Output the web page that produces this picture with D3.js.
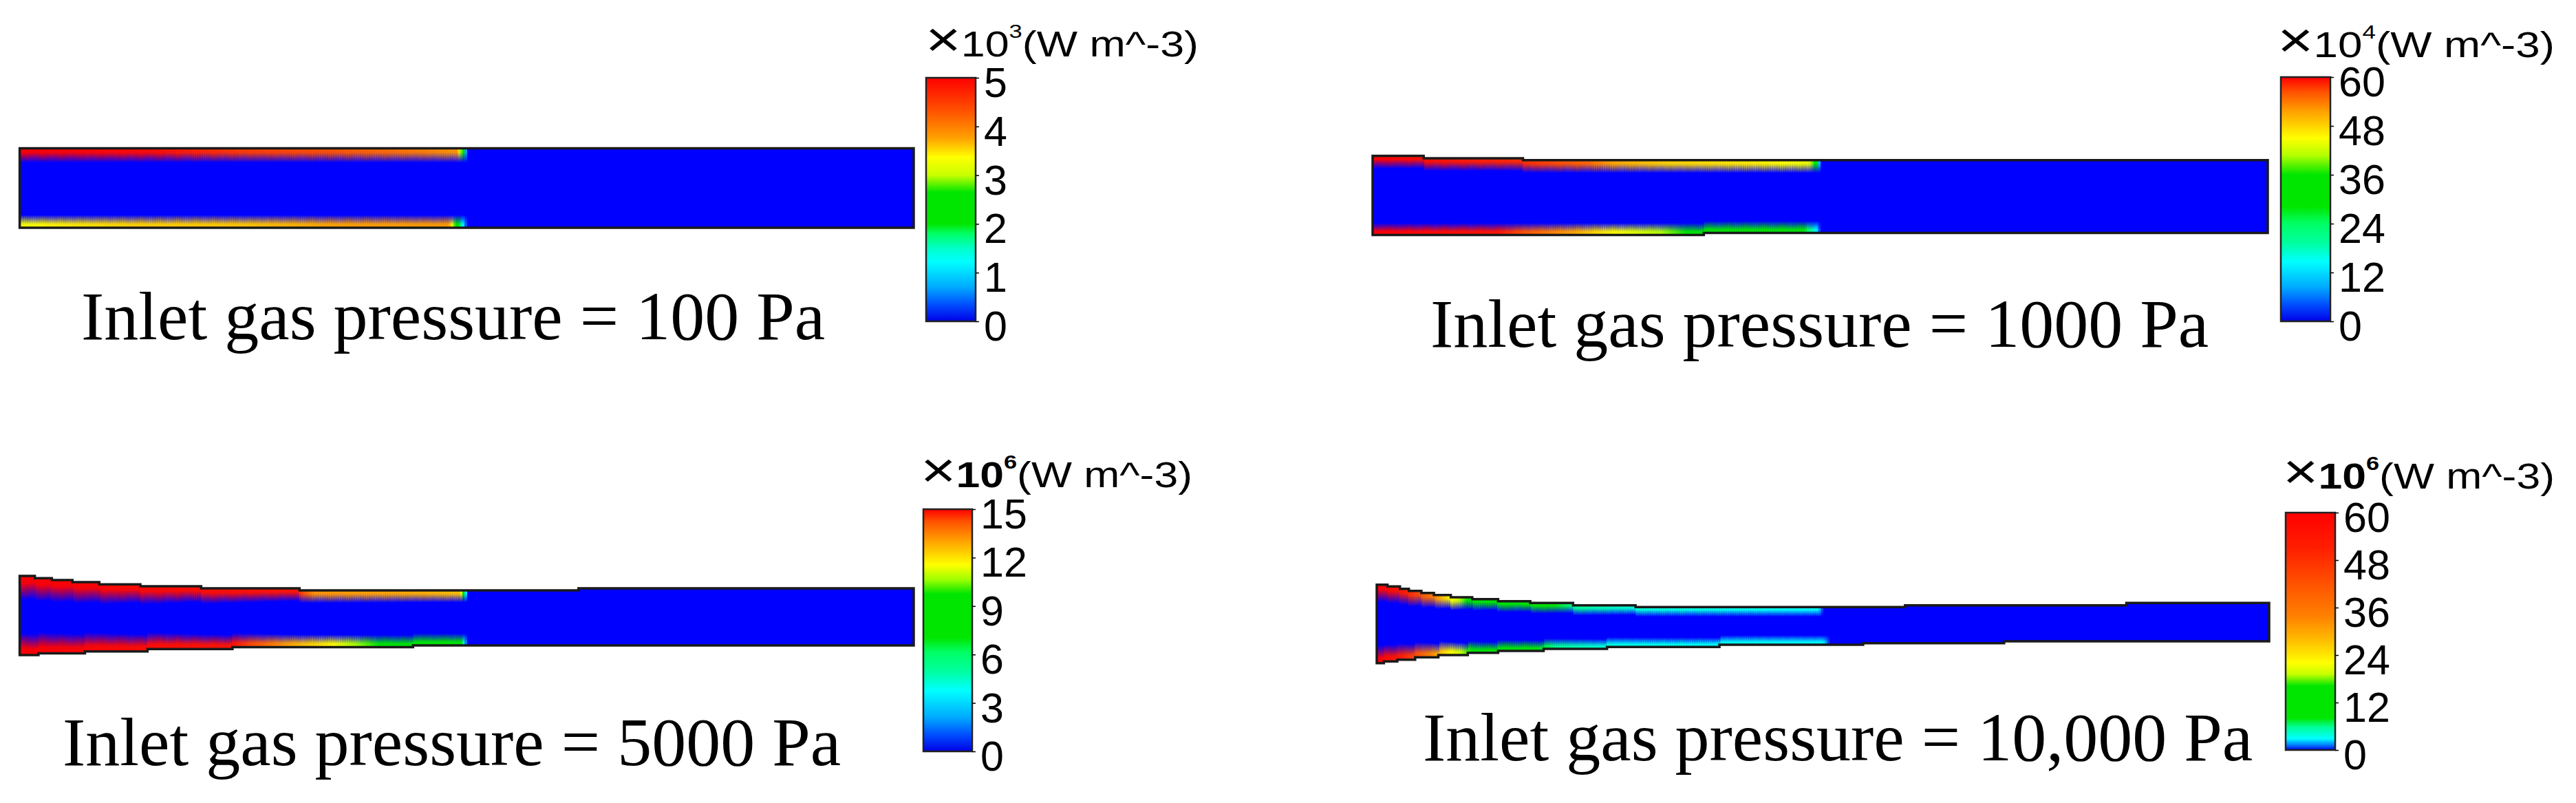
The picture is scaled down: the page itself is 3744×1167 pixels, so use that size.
<!DOCTYPE html>
<html>
<head>
<meta charset="utf-8">
<script src="https://cdn.jsdelivr.net/npm/d3@7"></script>
<style>
body { margin: 0; background: #fff; }
text { font-family: "Liberation Sans", Arial, sans-serif; fill: #000; }
.caption { font-family: "Liberation Serif", "Times New Roman", serif; font-size: 100px; }
</style>
</head>
<body>
<script>
"use strict"
// heat source density in the channel for four inlet pressures
// axial stations are in % of channel length, wall positions in half-heights of the 100 Pa channel

const captions = ["Inlet gas pressure = 100 Pa", "Inlet gas pressure = 1000 Pa",
                  "Inlet gas pressure = 5000 Pa", "Inlet gas pressure = 10,000 Pa"];
const exponents = ["3", "4", "6", "6"];
const cbMax = [5, 60, 15, 60];
const cbTicks = [[0, 1, 2, 3, 4, 5], [0, 12, 24, 36, 48, 60], [0, 3, 6, 9, 12, 15], [0, 12, 24, 36, 48, 60]];

// colour maps, [fraction of range, colour]
const cmap1 = [[0, "#0000e6"], [0.07, "#0050ff"], [0.14, "#00aaff"], [0.245, "#00ffff"], [0.30, "#00ffc8"], [0.36, "#00ff64"], [0.40, "#00e600"], [0.53, "#00e600"], [0.60, "#c8ff00"], [0.673, "#ffff00"], [0.753, "#ffa000"], [0.866, "#ff5000"], [1, "#ff0000"]];
const cmap2 = [[0, "#0000e6"], [0.07, "#0050ff"], [0.14, "#00aaff"], [0.244, "#00ffff"], [0.32, "#00ffa0"], [0.40, "#00ff64"], [0.47, "#00e600"], [0.60, "#00e600"], [0.68, "#b4ff00"], [0.75, "#ffff00"], [0.86, "#ffa000"], [0.94, "#ff5000"], [1, "#ff0000"]];
const cmap3 = [[0, "#0000e6"], [0.07, "#0050ff"], [0.14, "#00aaff"], [0.25, "#00ffff"], [0.33, "#00ffa0"], [0.41, "#00ff64"], [0.47, "#00e600"], [0.65, "#00e600"], [0.71, "#a0ff00"], [0.77, "#ffff00"], [0.87, "#ffa000"], [0.95, "#ff5000"], [1, "#ff0000"]];
const cmap4 = [[0, "#0000e6"], [0.02, "#0078ff"], [0.048, "#00ffff"], [0.097, "#00ff96"], [0.135, "#00e600"], [0.27, "#00e600"], [0.32, "#c8ff00"], [0.367, "#ffff00"], [0.46, "#ffbe00"], [0.56, "#ff8200"], [0.706, "#ff5000"], [0.85, "#ff1e00"], [1, "#ff0000"]];

// wall outlines (stepped)
const p1TopX = [0], p1TopY = [1];
const p1BotX = [0], p1BotY = [-1];
const p2TopX = [0, 5.7, 16.8], p2TopY = [1.03, 0.97, 0.92];
const p2BotX = [0, 37], p2BotY = [-0.96, -0.91];
const p3TopX = [0, 1.7, 3.6, 5.9, 8.9, 13.5, 20.3, 31.3, 62.5];
const p3TopY = [1.03, 0.973, 0.926, 0.874, 0.819, 0.771, 0.719, 0.667, 0.719];
const p3BotX = [0, 2.1, 7.3, 14.3, 23.8, 44.0];
const p3BotY = [-0.961, -0.918, -0.869, -0.810, -0.762, -0.719];
const p4TopX = [0, 1.2, 2.6, 3.6, 5.0, 6.4, 8.3, 10.7, 13.6, 17.2, 22.0, 29.0, 59.2, 84.0];
const p4TopY = [0.958, 0.913, 0.854, 0.802, 0.750, 0.698, 0.641, 0.594, 0.542, 0.497, 0.438, 0.393, 0.438, 0.497];
const p4BotX = [0, 0.8, 2.3, 4.3, 6.9, 10.2, 13.6, 18.7, 25.8, 38.4, 54.5, 70.3];
const p4BotY = [-1.016, -0.975, -0.930, -0.871, -0.814, -0.757, -0.710, -0.658, -0.611, -0.554, -0.514, -0.468];

// wall heat source values (colour bar units)
const p1HeatTopX = [0, 15, 25, 35, 45, 49, 49.6, 50];
const p1HeatTop  = [5, 4.9, 4.5, 4.3, 4.0, 3.8, 2.3, 0];
const p1HeatBotX = [0, 3, 12, 25, 35, 48, 49.6, 50];
const p1HeatBot  = [3.3, 3.4, 3.55, 3.6, 3.75, 3.8, 1.2, 0];
const p2HeatTopX = [0, 17, 24, 27, 33, 43, 48.7, 49.6, 50];
const p2HeatTop  = [60, 58, 55, 51, 48, 46, 44, 33, 0];
const p2HeatBotX = [0, 14, 17, 22.6, 26, 32, 35, 48, 49.6, 50];
const p2HeatBot  = [60, 59, 56, 51, 46, 41, 36, 30, 14, 0];
const p3HeatTopX = [0, 31, 33, 45, 49.3, 49.7, 50];
const p3HeatTop  = [15, 14.8, 13.2, 12.8, 12.5, 8.5, 0];
const p3HeatBotX = [0, 24, 27, 30.7, 35, 40, 44, 49.3, 49.7, 50];
const p3HeatBot  = [15, 14.8, 14, 12.8, 11.6, 9.8, 8.5, 8, 4, 0];
const p4HeatTopX = [0, 3, 6, 8, 10.5, 17, 22, 29, 49.5, 50];
const p4HeatTop  = [60, 52, 36, 23, 15, 11, 6, 4, 3, 0];
const p4HeatBotX = [0, 3, 5.5, 8, 11, 16, 20, 27, 50, 50.8];
const p4HeatBot  = [60, 50, 36, 23, 15, 10, 6, 3.5, 3, 0];

// depth of the heated layer next to each wall (half-heights)
const p1DepthX = [0, 50], p1DepthTop = [0.36, 0.36], p1DepthBot = [0.32, 0.32];
const p2DepthX = [0, 50], p2DepthTop = [0.32, 0.32], p2DepthBot = [0.3, 0.3];
const p3DepthX = [0, 10, 20, 31, 50], p3DepthTop = [0.6, 0.5, 0.4, 0.32, 0.3], p3DepthBot = [0.55, 0.46, 0.38, 0.32, 0.3];
const p4DepthX = [0, 5, 12, 30, 50], p4DepthTop = [0.45, 0.38, 0.28, 0.24, 0.24], p4DepthBot = [0.45, 0.38, 0.28, 0.24, 0.24];

const panelData = [
	{ cmap: cmap1, topX: p1TopX, topY: p1TopY, botX: p1BotX, botY: p1BotY, hTopX: p1HeatTopX, hTop: p1HeatTop, hBotX: p1HeatBotX, hBot: p1HeatBot, dX: p1DepthX, dTop: p1DepthTop, dBot: p1DepthBot },
	{ cmap: cmap2, topX: p2TopX, topY: p2TopY, botX: p2BotX, botY: p2BotY, hTopX: p2HeatTopX, hTop: p2HeatTop, hBotX: p2HeatBotX, hBot: p2HeatBot, dX: p2DepthX, dTop: p2DepthTop, dBot: p2DepthBot },
	{ cmap: cmap3, topX: p3TopX, topY: p3TopY, botX: p3BotX, botY: p3BotY, hTopX: p3HeatTopX, hTop: p3HeatTop, hBotX: p3HeatBotX, hBot: p3HeatBot, dX: p3DepthX, dTop: p3DepthTop, dBot: p3DepthBot },
	{ cmap: cmap4, topX: p4TopX, topY: p4TopY, botX: p4BotX, botY: p4BotY, hTopX: p4HeatTopX, hTop: p4HeatTop, hBotX: p4HeatBotX, hBot: p4HeatBot, dX: p4DepthX, dTop: p4DepthTop, dBot: p4DepthBot }
];

// layout
const w = 3744, h = 1167;
const unitPx = 57.75;
const layout = [
	{ x0: 28.6, x1: 1328, cy: 273.25, cbx: 1346, cbw: 72, cby0: 113, cby1: 467, tx: 1345, ty: 82, tlen: 397, cx: 118, cyT: 493, bold: false },
	{ x0: 1995, x1: 3296, cy: 286, cbx: 3315, cbw: 72, cby0: 112, cby1: 467, tx: 3310, ty: 83, tlen: 403, cx: 2079, cyT: 504, bold: false },
	{ x0: 28.6, x1: 1328, cy: 896.5, cbx: 1342, cbw: 71, cby0: 740, cby1: 1092, tx: 1338, ty: 708, tlen: 395, cx: 91, cyT: 1112, bold: true },
	{ x0: 2001, x1: 3298, cy: 905, cbx: 3322, cbw: 72, cby0: 745, cby1: 1090, tx: 3318, ty: 710, tlen: 395, cx: 2068, cyT: 1105, bold: true }
];

const svg = d3.select("body").append("svg")
	.attr("width", w)
	.attr("height", h);

svg.append("rect").attr("width", w).attr("height", h).attr("fill", "#fff");

const defs = svg.append("defs");

// fade masks for the wall layers
[["fadeDown", 0, 0, 0, 1], ["fadeUp", 0, 1, 0, 0]].forEach(([id, x1, y1, x2, y2]) => {
	const gr = defs.append("linearGradient").attr("id", id + "G")
		.attr("x1", x1).attr("y1", y1).attr("x2", x2).attr("y2", y2);
	gr.selectAll("stop")
		.data([[0, "#fff"], [0.3, "#f0f0f0"], [0.65, "#707070"], [1, "#000"]])
		.join("stop")
		.attr("offset", d => d[0])
		.attr("stop-color", d => d[1]);
	defs.append("mask").attr("id", id)
		.attr("maskContentUnits", "objectBoundingBox")
		.append("rect").attr("width", 1).attr("height", 1).attr("fill", "url(#" + id + "G)");
});

function stepAt(xs, ys, v) {
	return ys[Math.max(0, d3.bisectRight(xs, v) - 1)];
}

panelData.forEach((d, i) => {
	const L = layout[i];
	const max = cbMax[i];
	const g = svg.append("g");

	const x = d3.scaleLinear().domain([0, 100]).range([L.x0, L.x1]);
	const y = d3.scaleLinear().domain([-1, 1]).range([L.cy + unitPx, L.cy - unitPx]);
	const color = d3.scaleLinear()
		.domain(d.cmap.map(s => s[0] * max))
		.range(d.cmap.map(s => s[1]))
		.interpolate(d3.interpolateRgb)
		.clamp(true);

	// channel body
	const xs = Array.from(new Set([...d.topX, ...d.botX, 100])).sort((a, b) => a - b);
	const pts = xs.map(v => ({ x: v, t: stepAt(d.topX, d.topY, v), b: stepAt(d.botX, d.botY, v) }));
	const area = d3.area()
		.x(q => x(q.x))
		.y0(q => y(q.b))
		.y1(q => y(q.t))
		.curve(d3.curveStepAfter);

	g.append("path").attr("d", area(pts)).attr("fill", "#0000ff");

	// heated wall layers
	const step = 0.25;
	const sw = x(step) - x(0) + 0.8;
	const sides = [
		{ hx: d.hTopX, hv: d.hTop, dv: d.dTop, wx: d.topX, wy: d.topY, top: true },
		{ hx: d.hBotX, hv: d.hBot, dv: d.dBot, wx: d.botX, wy: d.botY, top: false }
	];
	sides.forEach(s => {
		const heat = d3.scaleLinear().domain(s.hx).range(s.hv).clamp(true);
		const depth = d3.scaleLinear().domain(d.dX).range(s.dv).clamp(true);
		const slices = d3.range(0, s.hx[s.hx.length - 1], step).map(a => {
			const c = a + step / 2;
			const wall = y(stepAt(s.wx, s.wy, c));
			const dp = depth(c) * unitPx;
			return { a: a, col: color(heat(c)), y: s.top ? wall : wall - dp, h: dp };
		});
		g.selectAll(null)
			.data(slices)
			.enter()
			.append("rect")
			.attr("x", q => x(q.a))
			.attr("y", q => q.y)
			.attr("width", sw)
			.attr("height", q => q.h)
			.attr("fill", q => q.col)
			.attr("mask", s.top ? "url(#fadeDown)" : "url(#fadeUp)");
	});

	// outline
	g.append("path").attr("d", area(pts))
		.attr("fill", "none")
		.attr("stroke", "#1a1a1a")
		.attr("stroke-width", 3.5);

	// colour bar
	const gid = "cb" + i;
	const grad = defs.append("linearGradient").attr("id", gid)
		.attr("x1", 0).attr("y1", 1).attr("x2", 0).attr("y2", 0);
	grad.selectAll("stop")
		.data(d.cmap)
		.join("stop")
		.attr("offset", s => s[0])
		.attr("stop-color", s => s[1]);

	const cbScale = d3.scaleLinear().domain([0, max]).range([L.cby1, L.cby0]);

	g.append("rect")
		.attr("x", L.cbx)
		.attr("y", L.cby0)
		.attr("width", L.cbw)
		.attr("height", L.cby1 - L.cby0)
		.attr("fill", "url(#" + gid + ")")
		.attr("stroke", "#222")
		.attr("stroke-width", 2.5);

	const axis = g.append("g")
		.attr("transform", "translate(" + (L.cbx + L.cbw) + ",0)")
		.call(d3.axisRight(cbScale).tickValues(cbTicks[i]).tickSize(5).tickPadding(7).tickFormat(d3.format("d")));
	axis.select(".domain").remove();
	axis.selectAll(".tick line").attr("stroke", "#000").attr("stroke-width", 1.5);
	axis.selectAll(".tick text")
		.attr("dy", "0.45em")
		.style("font-family", "'Liberation Sans', Arial, sans-serif")
		.style("font-size", "61px")
		.attr("fill", "#000");

	// colour bar title
	const t = g.append("text")
		.attr("x", L.tx)
		.attr("y", L.ty)
		.attr("textLength", L.tlen)
		.attr("lengthAdjust", "spacingAndGlyphs")
		.style("font-size", "51px");
	t.append("tspan").style("font-size", "72px").text("\u00d7");
	t.append("tspan").style("font-weight", L.bold ? "bold" : "normal").text("10");
	t.append("tspan").attr("dy", -27).style("font-size", "28px").style("font-weight", L.bold ? "bold" : "normal").text(exponents[i]);
	t.append("tspan").attr("dy", 27).text("(W m^-3)");

	// caption
	g.append("text")
		.attr("class", "caption")
		.attr("x", L.cx)
		.attr("y", L.cyT)
		.text(captions[i]);
});
</script>
</body>
</html>
